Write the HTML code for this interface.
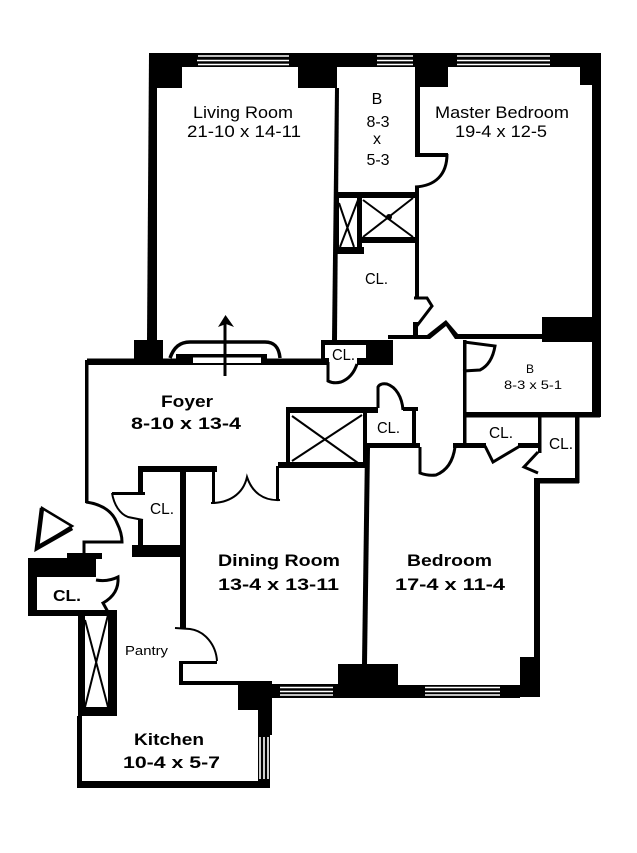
<!DOCTYPE html>
<html><head><meta charset="utf-8"><style>
html,body{margin:0;padding:0;background:#fff;width:637px;height:853px;overflow:hidden}
svg{display:block}
text{font-family:"Liberation Sans",sans-serif;fill:#000}
.b{font-weight:bold}
.l{fill:none;stroke:#000;stroke-width:3}
.t{fill:none;stroke:#000;stroke-width:2}
.w{stroke:#fff;stroke-width:1.6;fill:none}
</style></head><body>
<svg width="637" height="853" viewBox="0 0 637 853" xmlns="http://www.w3.org/2000/svg">
<rect width="637" height="853" fill="#fff"/>
<!-- top wall -->
<rect x="149" y="53" width="452" height="14"/>
<polygon points="149,53 157,53 157,340 155,340 147,340"/>
<rect x="149" y="53" width="33" height="35"/>
<rect x="298" y="60" width="39" height="28"/>
<rect x="415" y="60" width="33" height="27"/>
<rect x="580" y="60" width="12" height="25"/>
<rect x="339" y="67" width="76" height="1" fill="#fff"/>
<!-- top windows -->
<path class="w" d="M198 56H289M197 60.500H289M198 64.500H289M377 56H413M377 60.500H413M377 64.500H413M457 56H550M457 60.500H550M457 64.500H550"/>
<!-- right wall -->
<rect x="592" y="53" width="9" height="364"/>
<rect x="542" y="317" width="59" height="25"/>
<!-- master left wall -->
<rect x="415" y="85" width="5" height="70"/>
<rect x="415" y="153" width="33" height="4"/>
<path class="l" d="M447 154C447 175 435 186 415 187"/>
<rect x="415" y="187" width="4" height="112"/>
<!-- living right wall -->
<polygon points="335,88 339,88 337,340 332,340"/>
<rect x="335" y="192" width="83" height="6"/>
<!-- small shaft -->
<rect x="334" y="192" width="5" height="60"/>
<rect x="357" y="195" width="5" height="58"/>
<rect x="334" y="247" width="30" height="7"/>
<path class="t" d="M339 203L354 247M358 200L340 247"/>
<!-- large shaft box -->
<rect x="358" y="237" width="60" height="6"/>
<path class="t" d="M363 200L413 237M413 198L363 237"/>
<circle cx="389" cy="217" r="3"/>
<!-- door to CL -->
<path class="l" d="M414 298H427L432 306L416 327V335"/>
<rect x="413" y="322" width="5" height="14"/>
<!-- wall 388-542 -->
<path d="M388 335H427L446 320L458 334H542V339H455L446 326L430 339H388Z"/>
<!-- CL block -->
<rect x="321" y="340" width="72" height="25"/>
<rect x="325" y="345" width="41" height="13" fill="#fff"/>
<rect x="329" y="358" width="28" height="7" fill="#fff"/>
<path class="l" d="M328 362V381Q334 384 341 382C349 379 354 373 357 364"/>
<!-- foyer top -->
<rect x="87" y="358.500" width="240" height="6.500"/>
<rect x="134" y="340" width="29" height="25"/>
<rect x="176" y="354" width="91" height="11"/>
<rect x="193" y="357.500" width="68" height="5.500" fill="#fff"/>
<path fill="none" stroke="#000" stroke-width="3.500" d="M170 358C174 347 180 342 190 342H265C275 342 279 348 280 358"/>
<path fill="none" stroke="#000" stroke-width="3" d="M225 376V322"/><path d="M225.500 315L234 327L226 324L218 327Z"/>
<!-- right side B2 -->
<rect x="463" y="340" width="3.500" height="105"/>
<path class="l" d="M464 342L495 346C493 358 488 366 480 370L463 371"/>
<rect x="463" y="412" width="137" height="5.500"/>
<rect x="538" y="417" width="3.500" height="36"/>
<rect x="575" y="417" width="4.500" height="66"/>
<rect x="534" y="478" width="45" height="5.500"/>
<rect x="534" y="478" width="6" height="180"/>
<rect x="453" y="443" width="33" height="5"/>
<path class="l" d="M485 446L493 462L520 446"/>
<rect x="518" y="443" width="22" height="5"/>
<path class="l" d="M538 452L524 467L538 473"/>
<!-- small CL -->
<rect x="286" y="407" width="92" height="6"/>
<path class="l" d="M378 408V387Q380 383 387 384C396 387 402 397 403 410"/>
<rect x="403" y="407" width="15" height="4"/>
<rect x="412" y="408" width="4" height="38"/>
<rect x="365" y="443" width="55" height="5"/>
<rect x="363" y="410" width="4" height="56"/>
<!-- hall door -->
<path class="l" d="M420 447V473Q428 476 436 475C446 471 453 462 455 447"/>
<!-- foyer shaft -->
<rect x="286" y="407" width="4" height="60"/>
<rect x="278" y="462" width="89" height="6"/>
<path class="t" d="M292 416L358 463M362 415L292 461"/>
<!-- bedroom/dining wall -->
<polygon points="365,448 370,448 367,664 362,664"/>
<!-- foyer lower doors -->
<rect x="138" y="466" width="79" height="6"/>
<rect x="212" y="470" width="3" height="33"/>
<rect x="276" y="466" width="3" height="34"/>
<path class="t" stroke-width="2.500" d="M211 503C228 503 243 495 247 477C252 492 263 501 280 500"/>
<!-- foyer left -->
<rect x="85" y="360" width="3.500" height="143"/>
<path class="l" d="M86 502C100 504 112 510 117 523C121 531 122 537 122 542H84V553"/>
<!-- CL near entry -->
<rect x="138" y="468" width="5" height="27"/>
<rect x="112" y="492" width="33" height="3"/>
<path class="t" d="M112 493C114 505 120 514 128 517L143 520"/>
<rect x="138" y="519" width="5" height="28"/>
<rect x="132" y="545" width="54" height="12"/>
<rect x="180" y="470" width="6" height="158"/>
<!-- triangle -->
<path d="M42 508L72 526L37 548Z" fill="none" stroke="#000" stroke-width="2.500"/>
<path d="M42 508L37 548L72 528" fill="none" stroke="#000" stroke-width="4.500"/>
<!-- lower-left closet -->
<rect x="28" y="558" width="68" height="19"/>
<rect x="67" y="553" width="35" height="6"/>
<rect x="28" y="577" width="9" height="39"/>
<rect x="28" y="610" width="89" height="6"/>
<path class="l" d="M96 580Q108 582 118 577C119 590 112 598 103 603L108 612"/>
<!-- lower shaft -->
<rect x="78" y="610" width="7" height="106"/>
<rect x="108" y="610" width="9" height="106"/>
<rect x="78" y="707" width="39" height="9"/>
<path class="t" d="M85 620L108 707M108 615L85 707"/>
<!-- kitchen -->
<rect x="77" y="716" width="5" height="72"/>
<rect x="77" y="781" width="193" height="7"/>
<rect x="258" y="681" width="14" height="54"/>
<rect x="238" y="681" width="34" height="29"/>
<rect x="179" y="681" width="60" height="4"/>
<rect x="179" y="661" width="4" height="24"/>
<rect x="179" y="661" width="38" height="3"/>
<path class="t" stroke-width="2.500" d="M217 661C216 645 205 631 190 629L175 628"/>
<rect x="181" y="626" width="5" height="3"/>
<!-- kitchen window -->
<rect x="258" y="735" width="12" height="46"/>
<path class="w" d="M260 737V779M264 737V779M268 737V779"/>
<!-- bottom wall -->
<rect x="268" y="684" width="70" height="14"/>
<rect x="338" y="664" width="60" height="34"/>
<rect x="398" y="685" width="122" height="13"/>
<rect x="520" y="657" width="20" height="40"/>
<path class="w" d="M280 687.500H333M280 691.500H333M280 695H333M425 687.500H500M425 691.500H500M425 695H500"/>
<!-- labels -->
<text x="193" y="118" font-size="17" textLength="100" lengthAdjust="spacingAndGlyphs">Living Room</text>
<text x="187" y="137" font-size="17" textLength="114" lengthAdjust="spacingAndGlyphs">21-10 x 14-11</text>
<text x="377" y="104" font-size="16" text-anchor="middle">B</text>
<text x="378" y="127" font-size="16" text-anchor="middle">8-3</text>
<text x="377" y="144" font-size="16" text-anchor="middle">x</text>
<text x="378" y="165" font-size="16" text-anchor="middle">5-3</text>
<text x="365" y="284" font-size="16" textLength="23" lengthAdjust="spacingAndGlyphs">CL.</text>
<text x="435" y="118" font-size="17" textLength="134" lengthAdjust="spacingAndGlyphs">Master Bedroom</text>
<text x="455" y="137" font-size="17" textLength="92" lengthAdjust="spacingAndGlyphs">19-4 x 12-5</text>
<text x="530" y="373" font-size="12" text-anchor="middle">B</text>
<text x="504" y="389" font-size="12" textLength="58" lengthAdjust="spacingAndGlyphs">8-3 x 5-1</text>
<text x="332" y="360" font-size="16" textLength="23" lengthAdjust="spacingAndGlyphs">CL.</text>
<text x="377" y="433" font-size="16" textLength="23" lengthAdjust="spacingAndGlyphs">CL.</text>
<text x="489" y="438" font-size="16" textLength="24" lengthAdjust="spacingAndGlyphs">CL.</text>
<text x="549" y="449" font-size="16" textLength="24" lengthAdjust="spacingAndGlyphs">CL.</text>
<text x="150" y="514" font-size="16" textLength="24" lengthAdjust="spacingAndGlyphs">CL.</text>
<text class="b" x="53" y="601" font-size="16" textLength="28" lengthAdjust="spacingAndGlyphs">CL.</text>
<text class="b" x="161" y="407" font-size="17" textLength="52" lengthAdjust="spacingAndGlyphs">Foyer</text>
<text class="b" x="131" y="429" font-size="17" textLength="110" lengthAdjust="spacingAndGlyphs">8-10 x 13-4</text>
<text class="b" x="218" y="566" font-size="17" textLength="122" lengthAdjust="spacingAndGlyphs">Dining Room</text>
<text class="b" x="218" y="590" font-size="17" textLength="121" lengthAdjust="spacingAndGlyphs">13-4 x 13-11</text>
<text class="b" x="407" y="566" font-size="17" textLength="85" lengthAdjust="spacingAndGlyphs">Bedroom</text>
<text class="b" x="395" y="590" font-size="17" textLength="110" lengthAdjust="spacingAndGlyphs">17-4 x 11-4</text>
<text x="125" y="655" font-size="13" textLength="43" lengthAdjust="spacingAndGlyphs">Pantry</text>
<text class="b" x="134" y="745" font-size="17" textLength="70" lengthAdjust="spacingAndGlyphs">Kitchen</text>
<text class="b" x="123" y="768" font-size="17" textLength="97" lengthAdjust="spacingAndGlyphs">10-4 x 5-7</text>
</svg>
</body></html>
